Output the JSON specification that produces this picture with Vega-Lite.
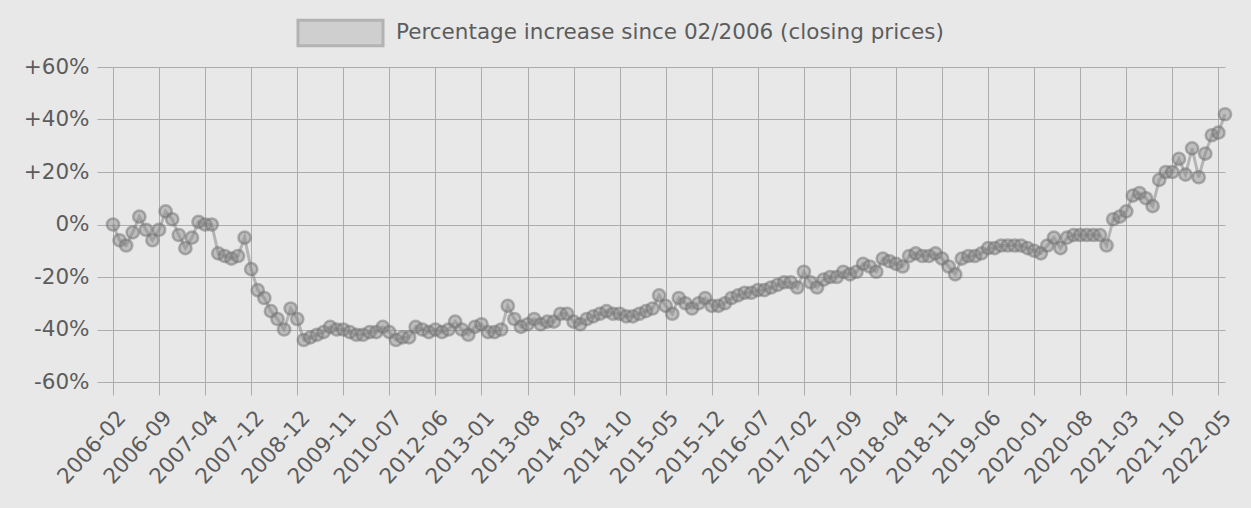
{
  "$schema": "https://vega.github.io/schema/vega-lite/v6.json",
  "width": 1112,
  "height": 315,
  "autosize": {"type": "none"},
  "padding": {"left": 113, "top": 67, "right": 26, "bottom": 126},
  "background": "#e8e8e8",
  "config": {
    "font": "DejaVu Sans",
    "view": {"stroke": null},
    "axis": {
      "domain": false,
      "grid": true,
      "gridColor": "#acacac",
      "gridWidth": 1,
      "tickColor": "#acacac",
      "tickWidth": 1,
      "labelColor": "#5c5c5c",
      "labelFont": "DejaVu Sans",
      "labelFontSize": 21.5,
      "title": null
    }
  },
  "data": {
    "values": [
      {"m": "2006-02", "v": 0}, {"m": "2006-03", "v": -6}, {"m": "2006-04", "v": -8}, {"m": "2006-05", "v": -3},
      {"m": "2006-06", "v": 3}, {"m": "2006-07", "v": -2}, {"m": "2006-08", "v": -6}, {"m": "2006-09", "v": -2},
      {"m": "2006-10", "v": 5}, {"m": "2006-11", "v": 2}, {"m": "2006-12", "v": -4}, {"m": "2007-01", "v": -9},
      {"m": "2007-02", "v": -5}, {"m": "2007-03", "v": 1}, {"m": "2007-04", "v": 0}, {"m": "2007-05", "v": 0},
      {"m": "2007-06", "v": -11}, {"m": "2007-07", "v": -12}, {"m": "2007-08", "v": -13}, {"m": "2007-10", "v": -12},
      {"m": "2007-11", "v": -5}, {"m": "2007-12", "v": -17}, {"m": "2008-02", "v": -25}, {"m": "2008-04", "v": -28},
      {"m": "2008-06", "v": -33}, {"m": "2008-08", "v": -36}, {"m": "2008-09", "v": -40}, {"m": "2008-10", "v": -32},
      {"m": "2008-12", "v": -36}, {"m": "2009-02", "v": -44}, {"m": "2009-04", "v": -43}, {"m": "2009-05", "v": -42},
      {"m": "2009-06", "v": -41}, {"m": "2009-08", "v": -39}, {"m": "2009-09", "v": -40}, {"m": "2009-11", "v": -40},
      {"m": "2009-12", "v": -41}, {"m": "2010-01", "v": -42}, {"m": "2010-02", "v": -42}, {"m": "2010-03", "v": -41},
      {"m": "2010-05", "v": -41}, {"m": "2010-06", "v": -39}, {"m": "2010-07", "v": -41}, {"m": "2010-10", "v": -44},
      {"m": "2011-01", "v": -43}, {"m": "2011-04", "v": -43}, {"m": "2011-07", "v": -39}, {"m": "2011-10", "v": -40},
      {"m": "2012-02", "v": -41}, {"m": "2012-06", "v": -40}, {"m": "2012-07", "v": -41}, {"m": "2012-08", "v": -40},
      {"m": "2012-09", "v": -37}, {"m": "2012-10", "v": -40}, {"m": "2012-11", "v": -42}, {"m": "2012-12", "v": -39},
      {"m": "2013-01", "v": -38}, {"m": "2013-02", "v": -41}, {"m": "2013-03", "v": -41}, {"m": "2013-04", "v": -40},
      {"m": "2013-05", "v": -31}, {"m": "2013-06", "v": -36}, {"m": "2013-07", "v": -39}, {"m": "2013-08", "v": -38},
      {"m": "2013-09", "v": -36}, {"m": "2013-10", "v": -38}, {"m": "2013-11", "v": -37}, {"m": "2013-12", "v": -37},
      {"m": "2014-01", "v": -34}, {"m": "2014-02", "v": -34}, {"m": "2014-03", "v": -37}, {"m": "2014-04", "v": -38},
      {"m": "2014-05", "v": -36}, {"m": "2014-06", "v": -35}, {"m": "2014-07", "v": -34}, {"m": "2014-08", "v": -33},
      {"m": "2014-09", "v": -34}, {"m": "2014-10", "v": -34}, {"m": "2014-11", "v": -35}, {"m": "2014-12", "v": -35},
      {"m": "2015-01", "v": -34}, {"m": "2015-02", "v": -33}, {"m": "2015-03", "v": -32}, {"m": "2015-04", "v": -27},
      {"m": "2015-05", "v": -31}, {"m": "2015-06", "v": -34}, {"m": "2015-07", "v": -28}, {"m": "2015-08", "v": -30},
      {"m": "2015-09", "v": -32}, {"m": "2015-10", "v": -30}, {"m": "2015-11", "v": -28}, {"m": "2015-12", "v": -31},
      {"m": "2016-01", "v": -31}, {"m": "2016-02", "v": -30}, {"m": "2016-03", "v": -28}, {"m": "2016-04", "v": -27},
      {"m": "2016-05", "v": -26}, {"m": "2016-06", "v": -26}, {"m": "2016-07", "v": -25}, {"m": "2016-08", "v": -25},
      {"m": "2016-09", "v": -24}, {"m": "2016-10", "v": -23}, {"m": "2016-11", "v": -22}, {"m": "2016-12", "v": -22},
      {"m": "2017-01", "v": -24}, {"m": "2017-02", "v": -18}, {"m": "2017-03", "v": -22}, {"m": "2017-04", "v": -24},
      {"m": "2017-05", "v": -21}, {"m": "2017-06", "v": -20}, {"m": "2017-07", "v": -20}, {"m": "2017-08", "v": -18},
      {"m": "2017-09", "v": -19}, {"m": "2017-10", "v": -18}, {"m": "2017-11", "v": -15}, {"m": "2017-12", "v": -16},
      {"m": "2018-01", "v": -18}, {"m": "2018-02", "v": -13}, {"m": "2018-03", "v": -14}, {"m": "2018-04", "v": -15},
      {"m": "2018-05", "v": -16}, {"m": "2018-06", "v": -12}, {"m": "2018-07", "v": -11}, {"m": "2018-08", "v": -12},
      {"m": "2018-09", "v": -12}, {"m": "2018-10", "v": -11}, {"m": "2018-11", "v": -13}, {"m": "2018-12", "v": -16},
      {"m": "2019-01", "v": -19}, {"m": "2019-02", "v": -13}, {"m": "2019-03", "v": -12}, {"m": "2019-04", "v": -12},
      {"m": "2019-05", "v": -11}, {"m": "2019-06", "v": -9}, {"m": "2019-07", "v": -9}, {"m": "2019-08", "v": -8},
      {"m": "2019-09", "v": -8}, {"m": "2019-10", "v": -8}, {"m": "2019-11", "v": -8}, {"m": "2019-12", "v": -9},
      {"m": "2020-01", "v": -10}, {"m": "2020-02", "v": -11}, {"m": "2020-03", "v": -8}, {"m": "2020-04", "v": -5},
      {"m": "2020-05", "v": -9}, {"m": "2020-06", "v": -5}, {"m": "2020-07", "v": -4}, {"m": "2020-08", "v": -4},
      {"m": "2020-09", "v": -4}, {"m": "2020-10", "v": -4}, {"m": "2020-11", "v": -4}, {"m": "2020-12", "v": -8},
      {"m": "2021-01", "v": 2}, {"m": "2021-02", "v": 3}, {"m": "2021-03", "v": 5}, {"m": "2021-04", "v": 11},
      {"m": "2021-05", "v": 12}, {"m": "2021-06", "v": 10}, {"m": "2021-07", "v": 7}, {"m": "2021-08", "v": 17},
      {"m": "2021-09", "v": 20}, {"m": "2021-10", "v": 20}, {"m": "2021-11", "v": 25}, {"m": "2021-12", "v": 19},
      {"m": "2022-01", "v": 29}, {"m": "2022-02", "v": 18}, {"m": "2022-03", "v": 27}, {"m": "2022-04", "v": 34},
      {"m": "2022-05", "v": 35}, {"m": "2022-06", "v": 42}
    ]
  },
  "encoding": {
    "x": {
      "field": "m",
      "type": "ordinal",
      "sort": null,
      "scale": {"type": "point", "padding": 0},
      "axis": {
        "values": ["2006-02", "2006-09", "2007-04", "2007-12", "2008-12", "2009-11", "2010-07", "2012-06", "2013-01", "2013-08", "2014-03", "2014-10", "2015-05", "2015-12", "2016-07", "2017-02", "2017-09", "2018-04", "2018-11", "2019-06", "2020-01", "2020-08", "2021-03", "2021-10", "2022-05"],
        "labelAngle": -48,
        "labelAlign": "right",
        "labelBaseline": "middle",
        "labelOverlap": false,
        "labelBound": false,
        "labelFlush": false,
        "tickSize": 13,
        "labelPadding": 19,
        "labelOffset": 9
      }
    },
    "y": {
      "field": "v",
      "type": "quantitative",
      "scale": {"domain": [-60, 60], "nice": false, "zero": false},
      "axis": {
        "values": [-60, -40, -20, 0, 20, 40, 60],
        "labelExpr": "datum.value > 0 ? '+' + datum.value + '%' : datum.value + '%'",
        "tickSize": 16,
        "labelPadding": 8
      }
    }
  },
  "layer": [
    {
      "mark": {"type": "line", "strokeWidth": 3, "opacity": 0.55},
      "encoding": {
        "color": {
          "datum": "Percentage increase since 02/2006 (closing prices)",
          "scale": {"range": ["#888888"]},
          "legend": {
            "title": null,
            "orient": "none",
            "legendX": 183.5,
            "legendY": -78,
            "padding": 0,
            "symbolType": "M-1,-0.3H1V0.3H-1Z",
            "symbolSize": 7225,
            "symbolStrokeWidth": 3,
            "symbolFillColor": "#bcbcbc",
            "labelOffset": 11.5,
            "labelLimit": 0,
            "labelFont": "DejaVu Sans",
            "labelFontSize": 21.5,
            "labelColor": "#5c5c5c",
            "encode": {
              "symbols": {
                "fill": {"value": "#bcbcbc"},
                "fillOpacity": {"value": 1},
                "stroke": {"value": "#a8a8a8"},
                "strokeOpacity": {"value": 1},
                "strokeWidth": {"value": 3},
                "opacity": {"value": 1}
              }
            }
          }
        }
      }
    },
    {
      "mark": {
        "type": "point",
        "filled": false,
        "size": 150,
        "fill": "#8a8a8a",
        "fillOpacity": 0.45,
        "stroke": "#707070",
        "strokeOpacity": 0.5,
        "strokeWidth": 2.5
      }
    }
  ]
}
